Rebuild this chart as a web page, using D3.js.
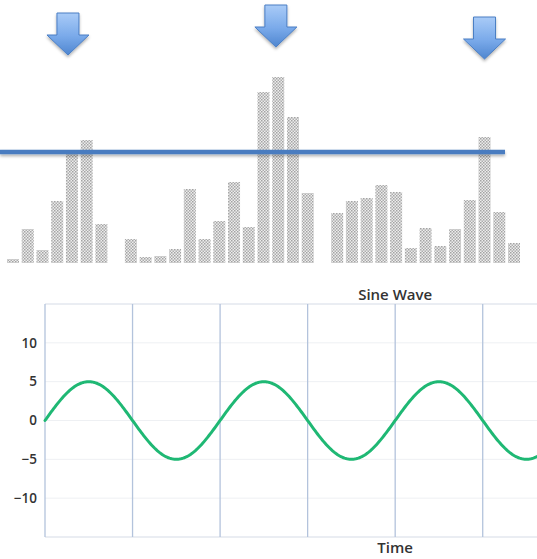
<!DOCTYPE html>
<html><head><meta charset="utf-8">
<script src="https://cdn.jsdelivr.net/npm/d3@7"></script>
<style>html,body{margin:0;padding:0;background:#fff;overflow:hidden}</style>
</head><body>
<script>
// ---- top chart data (bar heights, arbitrary units; null = empty slot)
const barValues = [4,34,13,62,110,123,39,null,24,6,7,14,74,24,42,81,36,171,186,146,70,null,50,62,65,78,71,15,35,17,34,63,126,51,20];
const thresholdValue = 111;
const arrowIndex = [3.73, 17.84, 32.0];   // slot positions of the down arrows
const arrowTipValue = [208, 216, 204];
// ---- bottom chart data
const sineAmplitude = 5;
const sinePeriod = 2;          // in time units (gridlines every 1 unit)
const timeMax = 5.62;
const yTicks = [-10,-5,0,5,10];
const xGrid = [0,1,2,3,4,5];
const titleText = "Sine Wave";
const xLabel = "Time";

const W = 537, H = 559;
const svg = d3.select("body").append("svg").attr("width", W).attr("height", H);
const defs = svg.append("defs");

// stipple pattern
const pat = defs.append("pattern").attr("id","stip").attr("width",3).attr("height",3).attr("patternUnits","userSpaceOnUse");
pat.append("rect").attr("width",3).attr("height",3).attr("fill","#ededed");
pat.append("rect").attr("x",0).attr("y",0).attr("width",1.5).attr("height",1.5).attr("fill","#a3a3a3");
pat.append("rect").attr("x",1.5).attr("y",1.5).attr("width",1.5).attr("height",1.5).attr("fill","#adadad");

// arrow gradient
const grad = defs.append("linearGradient").attr("id","arrG").attr("x1",0).attr("y1",0).attr("x2",0).attr("y2",1);
grad.append("stop").attr("offset","0%").attr("stop-color","#a9cbf7");
grad.append("stop").attr("offset","55%").attr("stop-color","#7aaaea");
grad.append("stop").attr("offset","100%").attr("stop-color","#4f86d0");
const sh = defs.append("filter").attr("id","shadow").attr("x","-20%").attr("y","-50%").attr("width","140%").attr("height","300%");
sh.append("feDropShadow").attr("dx",0).attr("dy",2).attr("stdDeviation",1.5).attr("flood-color","#000").attr("flood-opacity",0.3);

// ---- top chart
const xTop = d3.scaleLinear().domain([0, 34]).range([7, 508]);
const yTop = d3.scaleLinear().domain([0, 263]).range([263, 0]);
const barW = 12;
const gTop = svg.append("g");
gTop.selectAll("rect.bar").data(barValues.map((v,i)=>({v,i})).filter(d=>d.v!==null))
  .join("rect").attr("class","bar")
  .attr("x", d=>xTop(d.i)).attr("y", d=>yTop(d.v))
  .attr("width", barW).attr("height", d=>yTop(0)-yTop(d.v))
  .attr("fill","url(#stip)");

// threshold line (drawn as a thin rect so the shadow filter has a real box)
const lineW = 4.5;
gTop.append("rect")
  .attr("x",0).attr("width",xTop(34)-3)
  .attr("y",yTop(thresholdValue)-lineW/2).attr("height",lineW)
  .attr("fill","#4a7cc0")
  .attr("filter","url(#shadow)");

// arrows
arrowIndex.forEach((ai,k)=>{
  const cx = xTop(ai) + barW/2;
  const tip = yTop(arrowTipValue[k]);
  const shaftHalf = 11, headHalf = 21, headH = 20, totalH = 42;
  const t = tip - totalH, hs = tip - headH;
  const pts = [[cx-shaftHalf,t],[cx+shaftHalf,t],[cx+shaftHalf,hs],[cx+headHalf,hs],[cx,tip],[cx-headHalf,hs],[cx-shaftHalf,hs]];
  gTop.append("path").attr("d", d3.line()(pts)+"Z")
    .attr("fill","url(#arrG)").attr("stroke","#4a7ec4").attr("stroke-width",1)
    .attr("filter","url(#shadow)");
});

// ---- bottom chart
const x = d3.scaleLinear().domain([0, timeMax]).range([45, 537]);
const y = d3.scaleLinear().domain([-15, 15]).range([537, 304]);
const bot = svg.append("g");

bot.selectAll("line.hg").data(yTicks).join("line").attr("class","hg")
  .attr("x1",x(0)).attr("x2",W).attr("y1",d=>y(d)).attr("y2",d=>y(d))
  .attr("stroke","#eef0f3").attr("stroke-width",1);
bot.append("line").attr("x1",x(0)).attr("x2",W).attr("y1",y(15)).attr("y2",y(15)).attr("stroke","#d5dbe6").attr("stroke-width",1);
bot.append("line").attr("x1",x(0)).attr("x2",W).attr("y1",y(-15)).attr("y2",y(-15)).attr("stroke","#d5dbe6").attr("stroke-width",1);
bot.selectAll("line.vg").data(xGrid).join("line").attr("class","vg")
  .attr("x1",d=>x(d)).attr("x2",d=>x(d)).attr("y1",y(15)).attr("y2",y(-15))
  .attr("stroke","#b3c3dc").attr("stroke-width",1.3);

const yAxis = d3.axisLeft(y).tickValues(yTicks).tickSize(0).tickPadding(8);
const ya = bot.append("g").attr("transform",`translate(${x(0)},0)`).call(yAxis);
ya.select(".domain").remove();
ya.selectAll("text").attr("font-family","'Open Sans', sans-serif").attr("font-size",13.5).attr("font-weight",600).attr("fill","#333");

const samples = d3.range(0, 400).map(i => i*timeMax/399);
bot.append("path")
  .datum(samples)
  .attr("d", d3.line().x(t=>x(t)).y(t=>y(sineAmplitude*Math.sin(2*Math.PI*t/sinePeriod))))
  .attr("fill","none").attr("stroke","#1fb874").attr("stroke-width",3).attr("stroke-linecap","round");

svg.append("text").attr("x",x(4)).attr("y",300).attr("text-anchor","middle")
  .attr("font-family","'Open Sans', sans-serif").attr("font-size",15).attr("font-weight",600).attr("fill","#333").text(titleText);
svg.append("text").attr("x",x(4)).attr("y",553).attr("text-anchor","middle")
  .attr("font-family","'Open Sans', sans-serif").attr("font-size",15).attr("font-weight",600).attr("fill","#333").text(xLabel);
</script>
</body></html>
